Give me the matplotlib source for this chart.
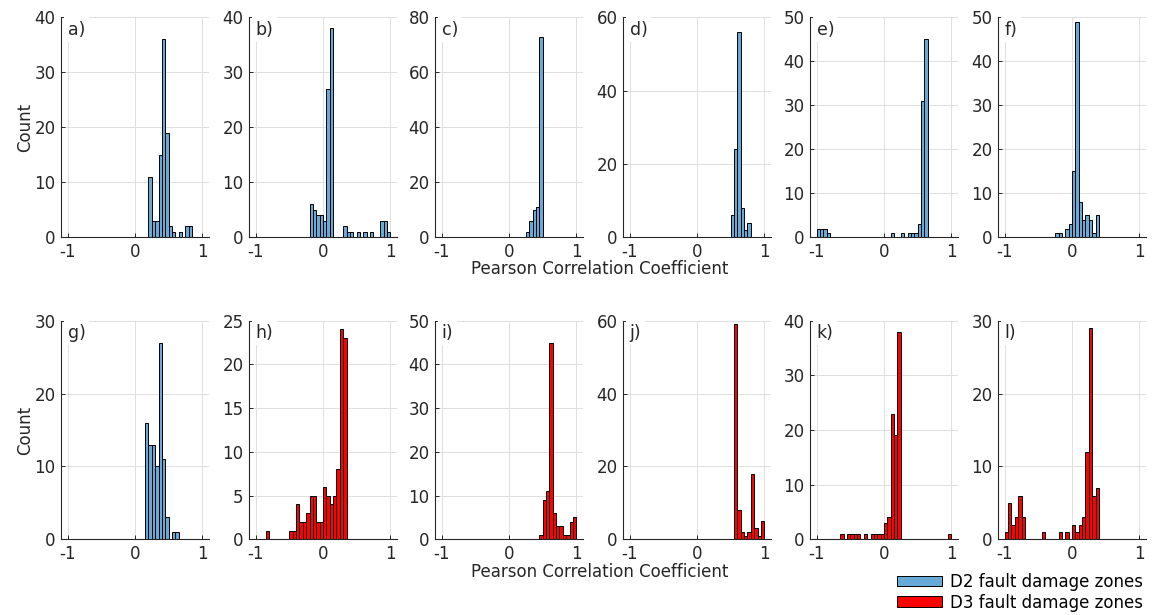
import numpy as np
import matplotlib
matplotlib.use('Agg')
import matplotlib.pyplot as plt
from matplotlib.patches import Patch

# histogram bins: -1 .. 1, width 0.05 (40 bins)
BIN_EDGES = np.round(np.linspace(-1, 1, 41), 2)

# counts per bin
a_counts = [0]*24 + [11, 3, 3, 15, 36, 19, 2, 1, 0, 1, 0, 2, 2, 0, 0, 0]
b_counts = [0]*16 + [6, 5, 4, 4, 3, 27, 38, 0, 0, 0, 2, 1, 1, 0, 1, 0, 1, 0, 1, 0, 0, 3, 3, 1]
c_counts = [0]*25 + [2, 6, 10, 11, 73] + [0]*10
d_counts = [0]*30 + [6, 24, 56, 8, 2, 4] + [0]*4
e_counts = [2, 2, 2, 1] + [0]*18 + [1, 0, 0, 1, 0, 1, 1, 1, 3, 31, 45] + [0]*7
f_counts = [0]*15 + [1, 1, 0, 2, 3, 15, 49, 8, 4, 5, 4, 1, 5] + [0]*12
g_counts = [0]*23 + [16, 13, 13, 10, 27, 11, 3, 0, 1, 1] + [0]*7
h_counts = [0, 0, 0, 1] + [0]*6 + [1, 1, 4, 2, 2, 3, 5, 5, 2, 2, 6, 5, 4, 5, 8, 24, 23] + [0]*13
i_counts = [0]*29 + [1, 9, 11, 45, 6, 3, 3, 1, 1, 4, 5]
j_counts = [0]*31 + [59, 8, 2, 1, 2, 18, 3, 1, 5]
k_counts = [0]*7 + [1, 0, 1, 1, 1, 1, 0, 1, 0, 1, 1, 1, 1, 3, 4, 23, 19, 38] + [0]*14 + [1]
l_counts = [1, 5, 2, 3, 6, 3] + [0]*5 + [1] + [0]*4 + [1, 0, 1, 0] + [2, 1, 2, 3, 12, 29, 6, 7] + [0]*12

panel_letters = ['a)', 'b)', 'c)', 'd)', 'e)', 'f)', 'g)', 'h)', 'i)', 'j)', 'k)', 'l)']
panel_counts = [a_counts, b_counts, c_counts, d_counts, e_counts, f_counts,
                g_counts, h_counts, i_counts, j_counts, k_counts, l_counts]
panel_group = ['D2'] * 7 + ['D3'] * 5
y_max = [40, 40, 80, 60, 50, 50, 30, 25, 50, 60, 40, 30]
y_step = [10, 10, 20, 20, 10, 10, 10, 5, 10, 20, 10, 10]

COLORS = {'D2': '#66aad8', 'D3': '#ff0000'}
LABELS = {'D2': 'D2 fault damage zones', 'D3': 'D3 fault damage zones'}
TXT = '#262626'

plt.rcParams['font.family'] = 'DejaVu Sans'
plt.rcParams['font.size'] = 12

W, H = 1155, 615
fig = plt.figure(figsize=(W / 100, H / 100), dpi=100)

lefts = [61, 249, 435, 623, 810, 998]
rows = [(17.3, 237.3), (320.7, 539.3)]
width = 148


def draw_panel(ax, counts, color, letter, ymax, ystep):
    ax.bar(BIN_EDGES[:-1], counts, width=0.05, align='edge', color=color,
           edgecolor='black', linewidth=0.7, zorder=2)
    ax.set_xlim(-1.1, 1.1)
    ax.set_ylim(0, ymax)
    ax.set_xticks([-1, 0, 1])
    ax.set_xticklabels(['-1', '0', '1'])
    ax.set_yticks(np.arange(0, ymax + 1, ystep))
    ax.grid(True, color='#dedede', linewidth=0.7)
    ax.set_axisbelow(True)
    for s in ['top', 'right']:
        ax.spines[s].set_visible(False)
    for s in ['left', 'bottom']:
        ax.spines[s].set_color(TXT)
        ax.spines[s].set_linewidth(0.8)
    ax.tick_params(direction='in', length=3, width=0.7, colors=TXT,
                   labelsize=12, pad=4)
    ax.text(0.045, 0.985, letter, transform=ax.transAxes, ha='left', va='top',
            fontsize=12.5, color=TXT, zorder=5,
            bbox=dict(boxstyle='square,pad=0.2', fc='white', ec='none'))


for idx in range(12):
    r, c = divmod(idx, 6)
    top, bottom = rows[r]
    ax = fig.add_axes([lefts[c] / W, 1 - bottom / H, width / W, (bottom - top) / H])
    draw_panel(ax, panel_counts[idx], COLORS[panel_group[idx]], panel_letters[idx],
               y_max[idx], y_step[idx])
    if c == 0:
        ax.set_ylabel('Count', color=TXT, fontsize=12, labelpad=0)

fig.text(600 / W, 1 - 269 / H, 'Pearson Correlation Coefficient', ha='center',
         va='center', fontsize=12, color=TXT)
fig.text(600 / W, 1 - 572 / H, 'Pearson Correlation Coefficient', ha='center',
         va='center', fontsize=12, color=TXT)

handles = [Patch(facecolor=COLORS[g], edgecolor='black', linewidth=0.7, label=LABELS[g])
           for g in ['D2', 'D3']]
fig.legend(handles=handles, loc='upper left', bbox_to_anchor=(897 / W, 1 - 573 / H),
           frameon=False, fontsize=12, handlelength=2.7, handleheight=0.6,
           handletextpad=0.45, labelspacing=0.15, borderpad=0, borderaxespad=0)

fig.savefig('out.png', dpi=100)
